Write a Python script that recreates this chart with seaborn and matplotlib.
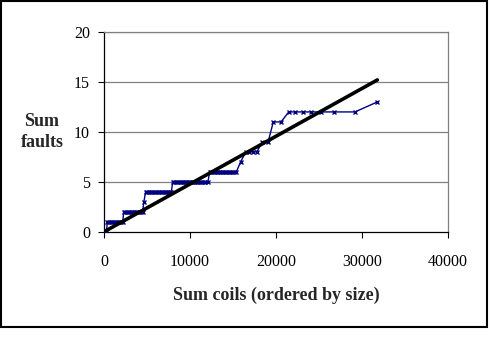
import matplotlib
matplotlib.use("Agg")
import matplotlib.pyplot as plt
import seaborn as sns
from matplotlib.patches import Rectangle

# cumulative coils (x) vs cumulative faults (y)
coils = [0, 150, 300,
         400, 600, 800, 1000, 1200, 1400, 1600, 1800, 2000, 2200,
         2300, 2500, 2700, 2900, 3100, 3300, 3500, 3700, 3900, 4100, 4300, 4500,
         4650,
         4850, 5050, 5250, 5450, 5650, 5850, 6050, 6250, 6450, 6650, 6850, 7050,
         7250, 7450, 7650, 7850,
         8000, 8200, 8400, 8600, 8800, 9000, 9200, 9400, 9600, 9800, 10000,
         10200, 10400, 10600, 10800, 11000, 11200, 11400, 11600, 11800, 12100,
         12300, 12500, 12700, 12900, 13100, 13300, 13500, 13700, 13900, 14100,
         14300, 14500, 14700, 14900, 15100, 15400,
         15900,
         16500, 16900, 17300, 17800,
         18400, 19100,
         19700, 20600,
         21500, 22200, 23100, 24100, 25300, 26800, 29200,
         31800]
faults = [0, 0, 0,
          1, 1, 1, 1, 1, 1, 1, 1, 1, 1,
          2, 2, 2, 2, 2, 2, 2, 2, 2, 2, 2, 2,
          3,
          4, 4, 4, 4, 4, 4, 4, 4, 4, 4, 4, 4,
          4, 4, 4, 4,
          5, 5, 5, 5, 5, 5, 5, 5, 5, 5, 5,
          5, 5, 5, 5, 5, 5, 5, 5, 5, 5,
          6, 6, 6, 6, 6, 6, 6, 6, 6, 6,
          6, 6, 6, 6, 6, 6,
          7,
          8, 8, 8, 8,
          9, 9,
          11, 11,
          12, 12, 12, 12, 12, 12, 12,
          13]

# straight reference line
fit_x = [0, 31800]
fit_y = [0, 15.2]

x_ticks = [0, 10000, 20000, 30000, 40000]
y_ticks = [0, 5, 10, 15, 20]

sns.set_style("white")
plt.rcParams['font.family'] = ['Liberation Serif', 'DejaVu Serif']

fig = plt.figure(figsize=(4.9, 3.4), dpi=100)
ax = fig.add_axes([0.212, 0.318, 0.702, 0.588])

for yv in y_ticks[1:]:
    ax.axhline(yv, color="#808080", lw=0.9, zorder=0)

sns.lineplot(x=coils, y=faults, ax=ax, color="#000080", lw=1.0,
             marker="x", markersize=3.2, markeredgewidth=1.0,
             markeredgecolor="#000080", sort=False, estimator=None, zorder=3)
sns.lineplot(x=fit_x, y=fit_y, ax=ax, color="black", lw=2.6,
             sort=False, estimator=None, zorder=4)

ax.set_xlim(0, 40000)
ax.set_ylim(0, 20)
ax.set_xticks(x_ticks)
ax.set_yticks(y_ticks)
ax.set_xticklabels([str(t) for t in x_ticks], fontsize=11.5)
ax.set_yticklabels([str(t) for t in y_ticks], fontsize=11.5)
ax.tick_params(axis="x", direction="out", length=4, width=0.8, pad=12, colors="black")
ax.tick_params(axis="y", direction="out", length=4, width=0.8, pad=6, colors="black")
ax.tick_params(bottom=True, left=True)

ax.spines["left"].set_color("black")
ax.spines["bottom"].set_color("black")
ax.spines["left"].set_linewidth(0.9)
ax.spines["bottom"].set_linewidth(0.9)
ax.spines["right"].set_color("#808080")
ax.spines["top"].set_color("#808080")
ax.spines["right"].set_linewidth(0.9)
ax.spines["top"].set_linewidth(0.9)

ax.set_xlabel("Sum coils (ordered by size)", fontsize=13, fontweight="bold", labelpad=12)
ax.set_ylabel("Sum\nfaults", fontsize=13, fontweight="bold", rotation=0,
              ha="center", va="center", labelpad=0, linespacing=1.3)
ax.yaxis.set_label_coords(-0.18, 0.5)

fig.patches.append(Rectangle((0.002, 0.038), 0.992, 0.958, transform=fig.transFigure,
                             fill=False, edgecolor="black", lw=1.5))

fig.savefig("out.png", dpi=100)
